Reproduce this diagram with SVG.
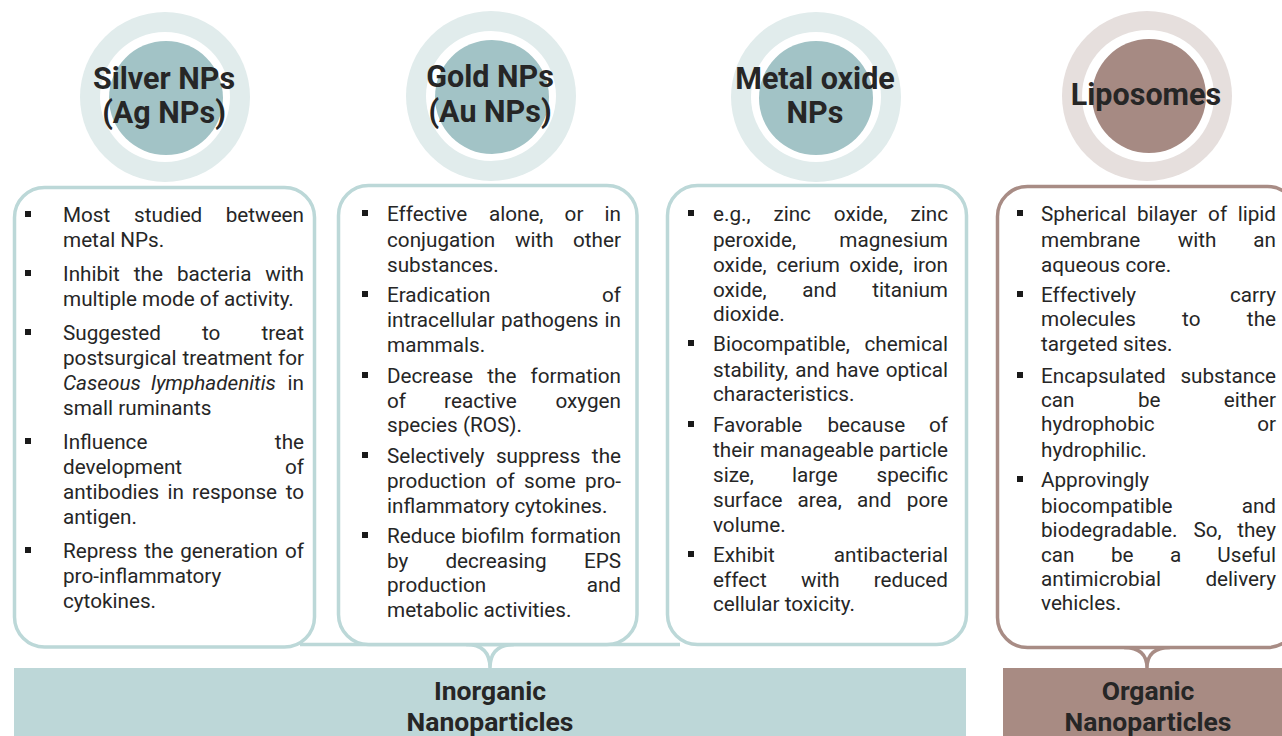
<svg xmlns="http://www.w3.org/2000/svg" width="1282" height="736" viewBox="0 0 1282 736">
<style>
text{font-family:Roboto,"Liberation Sans",sans-serif;fill:#262626}
.t{font-size:20.7px}
.e{font-size:20.7px;text-anchor:end}
.i{font-style:italic}
.h{font-size:30.5px;font-weight:bold;text-anchor:middle}
.b{font-size:26.5px;font-weight:bold;text-anchor:middle}
.ring{fill:#e1ecec}
.ringw{fill:#ffffff}
.core{fill:#a2c3c6}
.ringB{fill:#e6dfdd}
.coreB{fill:#a68a83}
.box{fill:#ffffff;stroke:#bcd8d8;stroke-width:3.5}
.boxB{fill:#ffffff;stroke:#a88c85;stroke-width:3.5}
.bul{fill:#1a1a1a}
.con{fill:none;stroke:#bcd8d8;stroke-width:3.5}
.conB{fill:none;stroke:#a88c85;stroke-width:3.5}
</style>

<g id="connectors">
<path class="con" d="M300 644.5 H680"/>
<path class="con" d="M466 644.5 C482 644.5 490 652 490 668 C490 652 498 644.5 514 644.5"/>
<path class="conB" d="M1124 647.5 C1140 647.5 1147 655 1147 668 C1147 655 1154 647.5 1170 647.5"/>
</g>

<g id="silver-title">
<circle class="ring" cx="165" cy="97" r="85"/>
<circle class="ringw" cx="165" cy="97" r="65"/>
<circle class="core" cx="166" cy="98" r="57"/>
<text class="h" x="164" y="89">Silver NPs</text>
<text class="h" x="164" y="123">(Ag NPs)</text>
</g>

<g id="gold-title">
<circle class="ring" cx="491" cy="96" r="85"/>
<circle class="ringw" cx="491" cy="96" r="65"/>
<circle class="core" cx="492" cy="97" r="57"/>
<text class="h" x="490" y="87">Gold NPs</text>
<text class="h" x="490" y="122">(Au NPs)</text>
</g>

<g id="metal-title">
<circle class="ring" cx="816" cy="97" r="85"/>
<circle class="ringw" cx="816" cy="97" r="65"/>
<circle class="core" cx="816" cy="98" r="57"/>
<text class="h" x="815" y="89">Metal oxide</text>
<text class="h" x="815" y="123">NPs</text>
</g>

<g id="liposomes-title">
<circle class="ringB" cx="1147" cy="96" r="85"/>
<circle class="ringw" cx="1148" cy="96" r="66"/>
<circle class="coreB" cx="1149" cy="96" r="57"/>
<text class="h" x="1146" y="105">Liposomes</text>
</g>

<g id="silver-box">
<rect class="box" x="14.5" y="187.5" width="300" height="459.5" rx="30"/>
<rect class="bul" x="25" y="211" width="6" height="6"/>
<text class="t" x="63" y="222">Most</text><text class="t" x="134.1" y="222">studied</text><text class="e" x="304" y="222">between</text>
<text class="t" x="63" y="247">metal NPs.</text>
<rect class="bul" x="25" y="270" width="6" height="6"/>
<text class="t" x="63" y="281">Inhibit</text><text class="t" x="133.8" y="281">the</text><text class="t" x="176.9" y="281">bacteria</text><text class="e" x="304" y="281">with</text>
<text class="t" x="63" y="306">multiple mode of activity.</text>
<rect class="bul" x="25" y="329" width="6" height="6"/>
<text class="t" x="63" y="340">Suggested</text><text class="t" x="201.9" y="340">to</text><text class="e" x="304" y="340">treat</text>
<text class="t" x="63" y="365">postsurgical</text><text class="t" x="182.4" y="365">treatment</text><text class="e" x="304" y="365">for</text>
<text class="t i" x="63" y="390">Caseous</text><text class="t i" x="151" y="390">lymphadenitis</text><text class="e" x="304" y="390">in</text>
<text class="t" x="63" y="415">small ruminants</text>
<rect class="bul" x="25" y="438" width="6" height="6"/>
<text class="t" x="63" y="449">Influence</text><text class="e" x="304" y="449">the</text>
<text class="t" x="63" y="474">development</text><text class="e" x="304" y="474">of</text>
<text class="t" x="63" y="499">antibodies</text><text class="t" x="167.4" y="499">in</text><text class="t" x="192.1" y="499">response</text><text class="e" x="304" y="499">to</text>
<text class="t" x="63" y="524">antigen.</text>
<rect class="bul" x="25" y="547" width="6" height="6"/>
<text class="t" x="63" y="558">Repress</text><text class="t" x="144.3" y="558">the</text><text class="t" x="180.2" y="558">generation</text><text class="e" x="304" y="558">of</text>
<text class="t" x="63" y="583">pro-inflammatory</text>
<text class="t" x="63" y="608">cytokines.</text>
</g>

<g id="gold-box">
<rect class="box" x="338.5" y="185.5" width="298.5" height="459" rx="30"/>
<rect class="bul" x="362" y="210" width="6" height="6"/>
<text class="t" x="387" y="221">Effective</text><text class="t" x="488.9" y="221">alone,</text><text class="t" x="564.6" y="221">or</text><text class="e" x="621" y="221">in</text>
<text class="t" x="387" y="247">conjugation</text><text class="t" x="515" y="247">with</text><text class="e" x="621" y="247">other</text>
<text class="t" x="387" y="272">substances.</text>
<rect class="bul" x="362" y="291" width="6" height="6"/>
<text class="t" x="387" y="302">Eradication</text><text class="e" x="621" y="302">of</text>
<text class="t" x="387" y="327">intracellular</text><text class="t" x="501" y="327">pathogens</text><text class="e" x="621" y="327">in</text>
<text class="t" x="387" y="352">mammals.</text>
<rect class="bul" x="362" y="372" width="6" height="6"/>
<text class="t" x="387" y="383">Decrease</text><text class="t" x="487.3" y="383">the</text><text class="e" x="621" y="383">formation</text>
<text class="t" x="387" y="408">of</text><text class="t" x="444.1" y="408">reactive</text><text class="e" x="621" y="408">oxygen</text>
<text class="t" x="387" y="432">species (ROS).</text>
<rect class="bul" x="362" y="452" width="6" height="6"/>
<text class="t" x="387" y="463">Selectively</text><text class="t" x="495.9" y="463">suppress</text><text class="e" x="621" y="463">the</text>
<text class="t" x="387" y="488">production</text><text class="t" x="495.8" y="488">of</text><text class="t" x="524.1" y="488">some</text><text class="e" x="621" y="488">pro-</text>
<text class="t" x="387" y="513">inflammatory cytokines.</text>
<rect class="bul" x="362" y="532" width="6" height="6"/>
<text class="t" x="387" y="543">Reduce</text><text class="t" x="461.2" y="543">biofilm</text><text class="e" x="621" y="543">formation</text>
<text class="t" x="387" y="568">by</text><text class="t" x="445.4" y="568">decreasing</text><text class="e" x="621" y="568">EPS</text>
<text class="t" x="387" y="592">production</text><text class="e" x="621" y="592">and</text>
<text class="t" x="387" y="617">metabolic activities.</text>
</g>

<g id="metal-box">
<rect class="box" x="667.5" y="185.5" width="299" height="459" rx="30"/>
<rect class="bul" x="688" y="210" width="6" height="6"/>
<text class="t" x="713" y="221">e.g.,</text><text class="t" x="773.4" y="221">zinc</text><text class="t" x="833.8" y="221">oxide,</text><text class="e" x="948" y="221">zinc</text>
<text class="t" x="713" y="247">peroxide,</text><text class="e" x="948" y="247">magnesium</text>
<text class="t" x="713" y="272">oxide,</text><text class="t" x="776.4" y="272">cerium</text><text class="t" x="849.3" y="272">oxide,</text><text class="e" x="948" y="272">iron</text>
<text class="t" x="713" y="297">oxide,</text><text class="t" x="802.3" y="297">and</text><text class="e" x="948" y="297">titanium</text>
<text class="t" x="713" y="321">dioxide.</text>
<rect class="bul" x="688" y="340" width="6" height="6"/>
<text class="t" x="713" y="351">Biocompatible,</text><text class="e" x="948" y="351">chemical</text>
<text class="t" x="713" y="377">stability,</text><text class="t" x="795.3" y="377">and</text><text class="t" x="835.9" y="377">have</text><text class="e" x="948" y="377">optical</text>
<text class="t" x="713" y="401">characteristics.</text>
<rect class="bul" x="688" y="421" width="6" height="6"/>
<text class="t" x="713" y="432">Favorable</text><text class="t" x="827.4" y="432">because</text><text class="e" x="948" y="432">of</text>
<text class="t" x="713" y="457">their</text><text class="t" x="760.1" y="457">manageable</text><text class="e" x="948" y="457">particle</text>
<text class="t" x="713" y="482">size,</text><text class="t" x="792" y="482">large</text><text class="e" x="948" y="482">specific</text>
<text class="t" x="713" y="507">surface</text><text class="t" x="797.4" y="507">area,</text><text class="t" x="857" y="507">and</text><text class="e" x="948" y="507">pore</text>
<text class="t" x="713" y="532">volume.</text>
<rect class="bul" x="688" y="551" width="6" height="6"/>
<text class="t" x="713" y="562">Exhibit</text><text class="e" x="948" y="562">antibacterial</text>
<text class="t" x="713" y="587">effect</text><text class="t" x="801" y="587">with</text><text class="e" x="948" y="587">reduced</text>
<text class="t" x="713" y="611">cellular toxicity.</text>
</g>

<g id="liposomes-box">
<rect class="boxB" x="997.5" y="186.5" width="300" height="461" rx="30"/>
<rect class="bul" x="1017" y="210" width="6" height="6"/>
<text class="t" x="1041" y="221">Spherical</text><text class="t" x="1136.9" y="221">bilayer</text><text class="t" x="1208.1" y="221">of</text><text class="e" x="1276" y="221">lipid</text>
<text class="t" x="1041" y="247">membrane</text><text class="t" x="1177.7" y="247">with</text><text class="e" x="1276" y="247">an</text>
<text class="t" x="1041" y="272">aqueous core.</text>
<rect class="bul" x="1017" y="291" width="6" height="6"/>
<text class="t" x="1041" y="302">Effectively</text><text class="e" x="1276" y="302">carry</text>
<text class="t" x="1041" y="326">molecules</text><text class="t" x="1182.1" y="326">to</text><text class="e" x="1276" y="326">the</text>
<text class="t" x="1041" y="351">targeted sites.</text>
<rect class="bul" x="1017" y="372" width="6" height="6"/>
<text class="t" x="1041" y="383">Encapsulated</text><text class="e" x="1276" y="383">substance</text>
<text class="t" x="1041" y="407">can</text><text class="t" x="1137.9" y="407">be</text><text class="e" x="1276" y="407">either</text>
<text class="t" x="1041" y="431">hydrophobic</text><text class="e" x="1276" y="431">or</text>
<text class="t" x="1041" y="457">hydrophilic.</text>
<rect class="bul" x="1017" y="476" width="6" height="6"/>
<text class="t" x="1041" y="487">Approvingly</text>
<text class="t" x="1041" y="513">biocompatible</text><text class="e" x="1276" y="513">and</text>
<text class="t" x="1041" y="537">biodegradable.</text><text class="t" x="1193.4" y="537">So,</text><text class="e" x="1276" y="537">they</text>
<text class="t" x="1041" y="562">can</text><text class="t" x="1110.9" y="562">be</text><text class="t" x="1169.9" y="562">a</text><text class="e" x="1276" y="562">Useful</text>
<text class="t" x="1041" y="586">antimicrobial</text><text class="e" x="1276" y="586">delivery</text>
<text class="t" x="1041" y="610">vehicles.</text>
</g>

<g id="inorganic">
<rect x="14" y="668" width="952" height="68" fill="#bdd7d8"/>
<text class="b" x="490" y="700">Inorganic</text>
<text class="b" x="490" y="731">Nanoparticles</text>
</g>

<g id="organic">
<rect x="1003" y="668" width="279" height="68" fill="#a88b83"/>
<text class="b" x="1148" y="700">Organic</text>
<text class="b" x="1148" y="731">Nanoparticles</text>
</g>
</svg>
